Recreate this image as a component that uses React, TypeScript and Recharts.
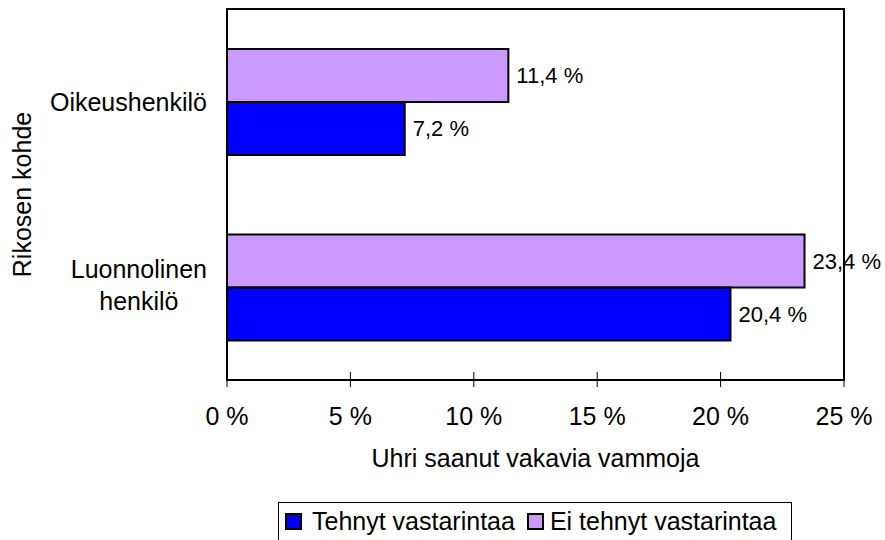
import React from 'react';
import { BarChart, Bar, XAxis, YAxis, ReferenceArea, LabelList, Label, Legend } from 'recharts';

const categories = ['Oikeushenkilö', 'Luonnolinen henkilö'];
const categoryLines = [['Oikeushenkilö'], ['Luonnolinen', 'henkilö']];
const tehnytValues = [7.2, 20.4];
const eiTehnytValues = [11.4, 23.4];
const xTicks = [0, 5, 10, 15, 20, 25];
const seriesNames = ['Tehnyt vastarintaa', 'Ei tehnyt vastarintaa'];
const xTitle = 'Uhri saanut vakavia vammoja';
const yTitle = 'Rikosen kohde';

const data = categories.map((name, i) => ({ name, tehnyt: tehnytValues[i], ei: eiTehnytValues[i] }));

const FONT = "'Liberation Sans', Arial, sans-serif";
const AXIS_FS = 25;
const LABEL_FS = 22;

let ctx: CanvasRenderingContext2D | null = null;
const measure = (s: string) => {
  if (!ctx) {
    const c = document.createElement('canvas');
    ctx = c.getContext('2d');
  }
  if (!ctx) return s.length * AXIS_FS * 0.55;
  ctx.font = `${AXIS_FS}px 'Liberation Sans'`;
  return ctx.measureText(s).width;
};

const fmtPct = (v: any) => `${Number(v).toFixed(1).replace('.', ',')} %`;

const YTick = (props: any) => {
  const { x, y, payload } = props;
  const idx = categories.indexOf(payload.value);
  const lines = idx >= 0 ? categoryLines[idx] : [String(payload.value)];
  const maxW = Math.max(...lines.map(measure));
  const cx = x - 20 - maxW / 2;
  const lh = 31.7;
  const n = lines.length;
  const first = y + AXIS_FS * 0.716 / 2 - ((n - 1) * lh) / 2 - (n - 1) * 2;
  return (
    <g>
      {lines.map((l, i) => (
        <text key={i} x={cx} y={first + i * lh} textAnchor="middle" fontSize={AXIS_FS} fontFamily={FONT} fill="#000">
          {l}
        </text>
      ))}
    </g>
  );
};

const XTick = (props: any) => {
  const { x, y, payload } = props;
  return (
    <g>
      <line x1={x} x2={x} y1={y - 8} y2={y + 7} stroke="#000" strokeWidth={1} />
      <text x={x} y={y + 45} textAnchor="middle" fontSize={AXIS_FS} fontFamily={FONT} fill="#000">
        {`${payload.value} %`}
      </text>
    </g>
  );
};

const XTitle = (props: any) => {
  const vb = props.viewBox || { x: 0, y: 0, width: 0, height: 0 };
  return (
    <text x={vb.x + vb.width / 2} y={vb.y + 87} textAnchor="middle" fontSize={AXIS_FS} fontFamily={FONT} fill="#000">
      {xTitle}
    </text>
  );
};

const YTitle = (props: any) => {
  const vb = props.viewBox || { x: 0, y: 0, width: 0, height: 0 };
  const cx = vb.x + 31;
  const cy = vb.y + vb.height / 2;
  return (
    <text x={cx} y={cy} transform={`rotate(-90, ${cx}, ${cy})`} textAnchor="middle" fontSize={AXIS_FS} fontFamily={FONT} fill="#000">
      {yTitle}
    </text>
  );
};

const LegendContent = (props: any) => {
  const items = [...(props.payload || [])].reverse();
  return (
    <div
      style={{
        boxSizing: 'border-box',
        width: 514,
        height: 50,
        border: '1px solid #000',
        background: '#fff',
        display: 'flex',
        alignItems: 'flex-start',
        paddingLeft: 6,
        paddingTop: 3,
        fontFamily: FONT,
        fontSize: AXIS_FS,
        lineHeight: '30px',
        color: '#000',
      }}
    >
      {items.map((it: any, i: number) => (
        <div key={i} style={{ display: 'flex', alignItems: 'center', marginRight: 12, whiteSpace: 'nowrap' }}>
          <span
            style={{
              display: 'inline-block',
              boxSizing: 'border-box',
              width: 17,
              height: 17,
              border: '2px solid #000',
              background: it.color,
              marginRight: i === 0 ? 10 : 6,
            }}
          />
          <span>{it.value}</span>
        </div>
      ))}
    </div>
  );
};

export default function App() {
  return (
    <div style={{ position: 'absolute', left: 0, top: 0, width: 885, height: 540, background: '#fff', overflow: 'hidden' }}>
      <BarChart
        width={885}
        height={540}
        data={data}
        layout="vertical"
        margin={{ top: 9, right: 41, bottom: 0, left: 0 }}
        barCategoryGap={40}
        barGap={0}
      >
        <XAxis
          type="number"
          domain={[0, 25]}
          ticks={xTicks}
          interval={0}
          height={160}
          tickSize={0}
          tickMargin={0}
          tickLine={false}
          axisLine={{ stroke: '#000', strokeWidth: 2 }}
          tick={<XTick />}
        >
          <Label content={XTitle} />
        </XAxis>
        <YAxis
          type="category"
          dataKey="name"
          width={227}
          tickSize={0}
          tickMargin={0}
          tickLine={false}
          axisLine={{ stroke: '#000', strokeWidth: 2 }}
          tick={<YTick />}
          interval={0}
        >
          <Label content={YTitle} />
        </YAxis>
        <Bar dataKey="ei" name={seriesNames[1]} fill="#CC99FF" stroke="#000" strokeWidth={2} isAnimationActive={false}>
          <LabelList dataKey="ei" position="right" offset={8} formatter={fmtPct} fontSize={LABEL_FS} fontFamily={FONT} fill="#000" />
        </Bar>
        <Bar dataKey="tehnyt" name={seriesNames[0]} fill="#0000FF" stroke="#000" strokeWidth={2} isAnimationActive={false}>
          <LabelList dataKey="tehnyt" position="right" offset={8} formatter={fmtPct} fontSize={LABEL_FS} fontFamily={FONT} fill="#000" />
        </Bar>
        <ReferenceArea x1={0} x2={25} fill="none" fillOpacity={0} stroke="#000" strokeWidth={2} ifOverflow="visible" />
        <Legend
          layout="horizontal"
          verticalAlign="middle"
          align="center"
          content={<LegendContent />}
          wrapperStyle={{ position: 'absolute', left: 278, top: 502, width: 514, height: 50 }}
        />
      </BarChart>
    </div>
  );
}
